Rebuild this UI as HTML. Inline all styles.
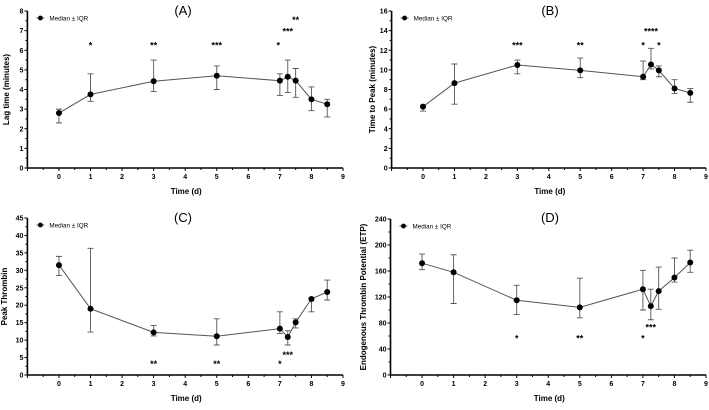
<!DOCTYPE html>
<html><head><meta charset="utf-8"><style>
body{margin:0;background:#fff;width:709px;height:405px;overflow:hidden}
svg{font-family:"Liberation Sans",Arial,sans-serif}
</style></head><body>
<svg id="chart" width="709" height="405" xmlns="http://www.w3.org/2000/svg"></svg>
<script>
const xDays = [0,1,3,5,7,7.25,7.5,8,8.5];
const xTickLabels = ["0","1","2","3","4","5","6","7","8","9"];
const aMedian = [2.8,3.75,4.42,4.7,4.45,4.65,4.45,3.5,3.25];
const aLow = [2.3,3.4,3.9,4.0,3.7,3.85,3.6,2.92,2.6];
const aHigh = [3.0,4.8,5.5,5.2,4.8,5.5,5.07,4.13,3.5];
const aStarX = [1,3,5,6.95,7.25,7.5];
const aStarY = [6.3,6.3,6.3,6.3,7.0,7.6];
const aStarText = ["*","**","***","*","***","**"];
const bMedian = [6.25,8.65,10.5,9.95,9.3,10.55,9.95,8.1,7.65];
const bLow = [5.8,6.5,9.6,9.2,9.0,10.1,9.3,7.6,6.7];
const bHigh = [6.4,10.6,11.0,11.2,10.9,12.2,10.4,9.0,8.1];
const bStarX = [3,5,7,7.25,7.5];
const bStarY = [12.6,12.6,12.6,14.0,12.6];
const bStarText = ["***","**","*","****","*"];
const cMedian = [31.5,19,12.2,11.1,13.3,10.9,15.1,21.8,23.8];
const cLow = [28.5,12.3,11.2,8.6,11.9,8.6,13.5,18.1,21.5];
const cHigh = [34,36.3,14.2,16.1,18.1,12.7,16.1,22,27.2];
const cStarX = [3,5,7,7.25];
const cStarY = [3.4,3.4,3.4,6.0];
const cStarText = ["**","**","*","***"];
const dMedian = [172,158,115,104,132,106,129,150,173];
const dLow = [162,110,93,88,100,85,101,143,158];
const dHigh = [186,185,138,149,161,132,166,180,192];
const dStarX = [3,5,7,7.25];
const dStarY = [58,58,58,75];
const dStarText = ["*","**","*","***"];

const svg = document.getElementById('chart');
const NS = 'http://www.w3.org/2000/svg';
function el(tag, attrs, parent){const e=document.createElementNS(NS,tag);for(const k in attrs)e.setAttribute(k,attrs[k]);(parent||svg).appendChild(e);return e;}

function panel(cfg){
  const g = el('g',{});
  
  
  const xs = v => cfg.x0 + (v - (-1)) * (cfg.x9 - cfg.x0) / 10;
  const ys = v => cfg.yb - v * (cfg.yb - cfg.yt) / cfg.ymax;
  const left = xs(-1), right = xs(9);
  // axes
  const ya = el('line',{x1:left,y1:cfg.yt,x2:left,y2:cfg.yb,stroke:'#000','stroke-width':1.6},g);
  
  
  const xa = el('line',{x1:left,y1:cfg.yb,x2:right,y2:cfg.yb,stroke:'#000','stroke-width':1.6},g);
  
  
  // y ticks
  for(let v=0; v<=cfg.ymax+1e-9; v+=cfg.ystep/2){
    const major = Math.abs(v/cfg.ystep - Math.round(v/cfg.ystep))<1e-6;
    el('line',{x1:left-(major?3:2),y1:ys(v),x2:left,y2:ys(v),stroke:'#000','stroke-width':1},g);
    if(major){
      const t=el('text',{x:left-4,y:ys(v)+2.5,'font-size':7,'font-weight':'bold','text-anchor':'end'},g);
      t.textContent = String(Math.round(v));
      
      
    }
  }
  // x ticks
  for(let v=-1; v<=9.001; v+=0.5){
    const major = Math.abs(v-Math.round(v))<1e-6;
    el('line',{x1:xs(v),y1:cfg.yb,x2:xs(v),y2:cfg.yb+(major?3:2),stroke:'#000','stroke-width':1},g);
  }
  for(let i=0;i<xTickLabels.length;i++){
    const t=el('text',{x:xs(i),y:cfg.yb+11,'font-size':7,'font-weight':'bold','text-anchor':'middle'},g);
    t.textContent = xTickLabels[i];
    
    
  }
  const xt=el('text',{x:(left+right)/2+1,y:cfg.yb+26,'font-size':8,'font-weight':'bold','text-anchor':'middle'},g);
  xt.textContent='Time (d)';
  
  
  const ytt=el('text',{x:0,y:0,'font-size':8,'font-weight':'bold','text-anchor':'middle',transform:`translate(${cfg.ytx},${(cfg.yt+cfg.yb)/2}) rotate(-90)`},g);
  ytt.textContent=cfg.ytitle;
  
  
  const tt=el('text',{x:cfg.tx,y:cfg.ty,'font-size':13,'text-anchor':'middle'},g);
  tt.textContent=cfg.title;
  
  
  // legend
  const lg=el('g',{},g);
  
  
  el('line',{x1:left+9,y1:cfg.yt+7,x2:left+17,y2:cfg.yt+7,stroke:'#333','stroke-width':0.8},lg);
  el('circle',{cx:left+13,cy:cfg.yt+7,r:2.4,fill:'#000'},lg);
  const lt=el('text',{x:left+22,y:cfg.yt+9.3,'font-size':6.3},lg);
  lt.textContent='Median ± IQR';
  // line
  const pts = xDays.map((d,i)=>xs(d).toFixed(1)+','+ys(cfg.med[i]).toFixed(1)).join(' ');
  const pl=el('polyline',{points:pts,fill:'none',stroke:'#555','stroke-width':1},g);
  
  
  xDays.forEach((d,i)=>{
    const x=xs(d);
    const eb=el('path',{d:`M${x},${ys(cfg.low[i])}V${ys(cfg.high[i])}M${x-3},${ys(cfg.low[i])}H${x+3}M${x-3},${ys(cfg.high[i])}H${x+3}`,stroke:'#555','stroke-width':0.9,fill:'none'},g);
    
    
    const c=el('circle',{cx:x,cy:ys(cfg.med[i]),r:3,fill:'#000'},g);
    
    
  });
  cfg.sx.forEach((d,i)=>{
    const s=el('text',{x:xs(d),y:ys(cfg.sy[i])+4,'font-size':9,'font-weight':'bold','text-anchor':'middle'},g);
    s.textContent=cfg.st[i];
    
    
  });
}
panel({name:'panel-a',x0:27.4,x9:343,yt:11,yb:168,ymax:8,ystep:1,med:aMedian,low:aLow,high:aHigh,sx:aStarX,sy:aStarY,st:aStarText,ytitle:'Lag time (minutes)',ytx:9,title:'(A)',tx:183,ty:15});
panel({name:'panel-b',x0:391.6,x9:706,yt:11,yb:168,ymax:16,ystep:2,med:bMedian,low:bLow,high:bHigh,sx:bStarX,sy:bStarY,st:bStarText,ytitle:'Time to Peak (minutes)',ytx:375,title:'(B)',tx:550,ty:15});
panel({name:'panel-c',x0:27.4,x9:343,yt:218,yb:375,ymax:45,ystep:5,med:cMedian,low:cLow,high:cHigh,sx:cStarX,sy:cStarY,st:cStarText,ytitle:'Peak Thrombin',ytx:7,title:'(C)',tx:183,ty:222});
panel({name:'panel-d',x0:390.5,x9:706,yt:219,yb:375,ymax:240,ystep:40,med:dMedian,low:dLow,high:dHigh,sx:dStarX,sy:dStarY,st:dStarText,ytitle:'Endogenous Thrombin Potential (ETP)',ytx:366,title:'(D)',tx:550,ty:222});
</script>
</body></html>
